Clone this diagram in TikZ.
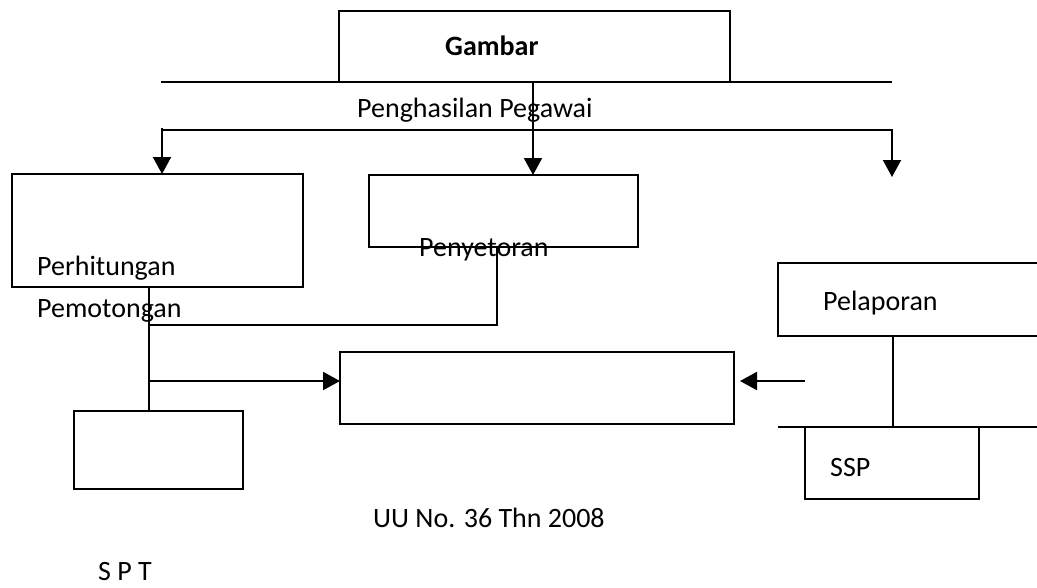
\documentclass[tikz,border=0pt]{standalone}
\usepackage{fontspec}
\setmainfont{Carlito}
\usepackage{tikz}
\usetikzlibrary{positioning, arrows.meta, calc}

\begin{document}
\begin{tikzpicture}[
    x=1pt, y=-1pt,
    font=\fontsize{28}{34}\selectfont,
    box/.style={rectangle, draw=black, line width=2pt, inner sep=0pt, outer sep=0pt},
    txt/.style={anchor=base west, inner sep=0pt},
    wire/.style={line width=2pt},
    arrow/.style={-{Triangle[length=17pt, width=18pt]}, line width=2pt}
]
    \useasboundingbox (0,0) rectangle (1037,587);

    % Top
    \node[box, minimum width=391pt, minimum height=71pt] (gambar) at (534.5,46.5) {};
    \node[txt, font=\fontsize{28}{34}\selectfont\bfseries] (gambartxt) at (445,55) {Gambar};
    \node[txt] (hasil) at (357,117) {Penghasilan Pegawai};

    % Boxes
    \node[box, minimum width=291pt, minimum height=113pt] (hitung) at (157.5,230.5) {};
    \node[box, minimum width=269pt, minimum height=72pt] (setor) at (503.5,211) {};
    \node[box, minimum width=394pt, minimum height=72pt] (tengah) at (537,388) {};
    \node[box, minimum width=169pt, minimum height=78pt] (spt) at (158.5,450) {};
    \node[box, minimum width=174pt, minimum height=72pt] (ssp) at (892,463) {};

    % Labels
    \node[txt] (hitungtxt) at (37,275) {Perhitungan};
    \node[txt] (potongtxt) at (37,317) {Pemotongan};
    \node[txt] (setortxt) at (419,256) {Penyetoran};
    \node[txt] (laportxt) at (823,310) {Pelaporan};
    \node[txt] (ssptxt) at (830,476) {SSP};
    \node[txt] (uutxt) at (373,527) {UU No. 36 Thn 2008};
    \node[txt] (spttxt) at (98,580) {S P T};

    % Coordinates
    \coordinate (g1) at (161,82);
    \coordinate (g2) at (892,82);
    \coordinate (h1) at (163,130);
    \coordinate (h2) at (892,130);
    \coordinate (ka) at (162,128);
    \coordinate (te) at (533,82);
    \coordinate (ki) at (149,325);
    \coordinate (sv) at (497,325);
    \coordinate (ak) at (149,381);
    \coordinate (kn) at (805,381);
    \coordinate (lp) at (893,336);

    % Lines and arrows
    \draw[wire] (g1) -- (g2);
    \draw[arrow] (h1) -- (h2) -- (892,177);
    \draw[arrow] (ka) -- (ka |- hitung.north);
    \draw[arrow] (te) -- (te |- setor.north);
    \draw[wire] (ki |- hitung.south) -- (ki |- spt.north);
    \draw[wire] (ki) -- (sv) -- (sv |- setor.south);
    \draw[arrow] (ak) -- (ak -| tengah.west);
    \draw[arrow, shorten >=6pt] (kn) -- (kn -| tengah.east);

    % Pelaporan
    \draw[wire] (1045,263) -- (778,263) -- (778,336) -- (1045,336);
    \draw[wire] (lp) -- (lp |- ssp.north);
    \draw[wire] (778,427) -- (1045,427);

\end{tikzpicture}
\end{document}
